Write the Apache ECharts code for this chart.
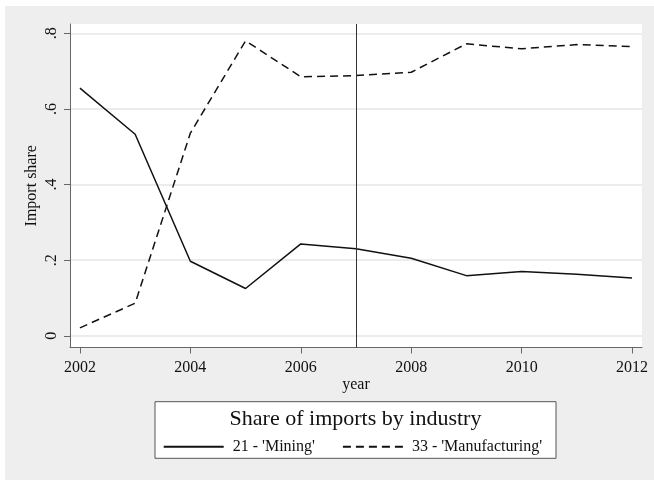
<!DOCTYPE html>
<html><head><meta charset="utf-8">
<script src="https://cdn.jsdelivr.net/npm/echarts@6/dist/echarts.min.js"></script>
<style>html,body{margin:0;padding:0;background:#fff;}#chart{position:absolute;left:5px;top:6px;width:649px;height:474px;}</style>
</head><body><div id="chart"></div>
<script>
const years = [2002, 2003, 2004, 2005, 2006, 2007, 2008, 2009, 2010, 2011, 2012];
const mining = [0.655, 0.533, 0.197, 0.125, 0.243, 0.230, 0.205, 0.159, 0.170, 0.163, 0.153];
const manufacturing = [0.021, 0.086, 0.536, 0.780, 0.685, 0.688, 0.697, 0.772, 0.759, 0.770, 0.765];
const seriesNames = ["21 - 'Mining'", "33 - 'Manufacturing'"];
const xTicks = [2002, 2004, 2006, 2008, 2010, 2012];
const yTicks = [0, 0.2, 0.4, 0.6, 0.8];
const yTickLabels = ['0', '.2', '.4', '.6', '.8'];
const refYear = 2007;
const xTitle = 'year';
const yTitle = 'Import share';
const legendTitle = 'Share of imports by industry';

const FONT = 'Liberation Serif';
const axisColor = '#666';
const textColor = '#111';

const chart = echarts.init(document.getElementById('chart'));
chart.setOption({
  backgroundColor: '#eeeeee',
  animation: false,
  grid: { left: 65, right: 12, top: 18, bottom: 132.5, show: true, backgroundColor: '#ffffff', borderWidth: 0 },
  xAxis: {
    type: 'value', min: 2001.82, max: 2012.18,
    name: xTitle, nameLocation: 'middle', nameGap: 29, nameMoveOverlap: false,
    nameTextStyle: { fontFamily: FONT, fontSize: 16, color: textColor },
    axisLine: { show: true, onZero: false, lineStyle: { color: axisColor, width: 1 } },
    axisTick: { show: true, length: 6, customValues: xTicks, lineStyle: { color: axisColor } },
    axisLabel: { customValues: xTicks, margin: 12, fontFamily: FONT, fontSize: 16, color: textColor,
      formatter: function (v) { return String(Math.round(v)); } },
    splitLine: { show: false }
  },
  yAxis: {
    type: 'value', min: -0.031, max: 0.8245,
    name: yTitle, nameLocation: 'middle', nameGap: 30, nameMoveOverlap: false,
    nameTextStyle: { fontFamily: FONT, fontSize: 16, color: textColor },
    axisLine: { show: true, onZero: false, lineStyle: { color: axisColor, width: 1 } },
    axisTick: { show: true, length: 6, customValues: yTicks, lineStyle: { color: axisColor } },
    axisLabel: {
      customValues: yTicks, rotate: 90, margin: 10, fontFamily: FONT, fontSize: 16, color: textColor,
      formatter: function (v) {
        for (let i = 0; i < yTicks.length; i++) if (Math.abs(yTicks[i] - v) < 1e-6) return yTickLabels[i];
        return '';
      }
    },
    splitLine: { show: true, lineStyle: { color: '#e6e6e6', width: 1.5 } }
  },
  legend: {
    data: seriesNames, left: 157.7, top: 432.7, padding: 0, z: 20,
    itemWidth: 60, itemHeight: 14, itemGap: 27,
    itemStyle: { opacity: 0 },
    textStyle: { fontFamily: FONT, fontSize: 16, color: textColor, padding: [0, 0, 0, 4] }
  },
  graphic: {
    z: 1,
    elements: [
      { type: 'rect', z: 1, shape: { x: 150, y: 395.7, width: 401, height: 56.6 },
        style: { fill: '#ffffff', stroke: '#555', lineWidth: 1 }, silent: true },
      { type: 'text', z: 2, x: 350.5, y: 413,
        style: { text: legendTitle, align: 'center', verticalAlign: 'middle', font: '22px "Liberation Serif"', fill: textColor }, silent: true }
    ]
  },
  series: [
    {
      name: seriesNames[0], type: 'line', symbol: 'none',
      data: years.map((y, i) => [y, mining[i]]),
      itemStyle: { color: '#111' },
      lineStyle: { color: '#111', width: 1.5, type: 'solid' },
      markLine: {
        silent: true, symbol: 'none', label: { show: false },
        lineStyle: { color: '#333', width: 1, type: 'solid' },
        data: [{ xAxis: refYear }]
      }
    },
    {
      name: seriesNames[1], type: 'line', symbol: 'none',
      data: years.map((y, i) => [y, manufacturing[i]]),
      itemStyle: { color: '#111' },
      lineStyle: { color: '#111', width: 1.5, type: [8, 5] }
    }
  ]
});
</script>
</body></html>
